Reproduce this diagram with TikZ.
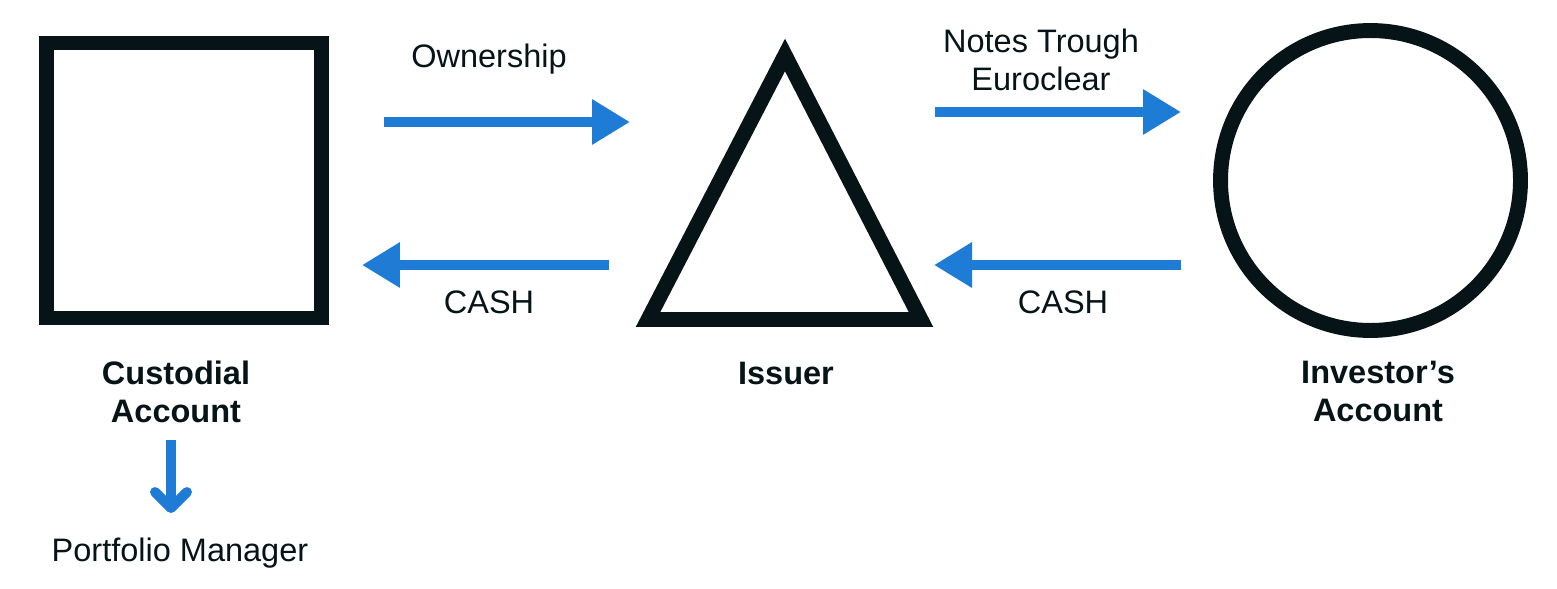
\documentclass[tikz,border=0pt]{standalone}
\usepackage{fontspec}
\setmainfont{Liberation Sans}
\usetikzlibrary{arrows.meta}
\definecolor{flowblue}{HTML}{1E7BD6}
\definecolor{inkdark}{HTML}{061417}

\begin{document}
\begin{tikzpicture}[x=0.02cm, y=-0.02cm,
  every node/.style={text=inkdark, font=\fontsize{18.5}{21.5}\selectfont, align=center, inner sep=0pt, outer sep=0pt},
  shapeline/.style={draw=inkdark, line width=8.5pt},
  flow/.style={draw=flowblue, line width=5.67pt, -{Triangle[length=0.76cm, width=0.86cm]}},
  title/.style={font=\fontsize{18.5}{21.5}\selectfont\bfseries}]
\useasboundingbox (0,0) rectangle (1557,588);

\node[shapeline, minimum size=5.5cm] (custodial) at (184,180.5) {};
\draw[shapeline, line join=miter] (648,319.5) -- (785,55) -- (921,319.5) -- cycle;
\coordinate (issuer) at (785,200);
\node[shapeline, circle, minimum size=6cm] (investor) at (1370.5,180.5) {};

\node[title] (custodial label) at (176,391.5) {Custodial\\Account};
\node[title] (issuer label) at (786,373) {Issuer};
\node[title] (investor label) at (1378,391.5) {Investor’s\\Account};

\coordinate (own a) at (384,122);
\coordinate (own b) at (630,122);
\coordinate (notes a) at (935,112);
\coordinate (notes b) at (1181,112);
\coordinate (cash1 a) at (609,265);
\coordinate (cash1 b) at (362,265);
\coordinate (cash2 a) at (1181,265);
\coordinate (cash2 b) at (934,265);
\coordinate (pm a) at (171,440);
\coordinate (pm b) at (171,513);

\draw[flow] (own a) -- (own b);
\draw[flow] (notes a) -- (notes b);
\draw[flow] (cash1 a) -- (cash1 b);
\draw[flow] (cash2 a) -- (cash2 b);
\draw[draw=flowblue, line width=5.67pt, -{Straight Barb[round, length=0.32cm, width=0.64cm]}] (pm a) -- (pm b);

\node (ownership) at (489,59) {Ownership};
\node (notes) at (1041,60) {Notes Trough\\Euroclear};
\node (cash1) at (489,302) {CASH};
\node (cash2) at (1063,302) {CASH};
\node (pm) at (180,553) {Portfolio Manager};
\end{tikzpicture}
\end{document}
